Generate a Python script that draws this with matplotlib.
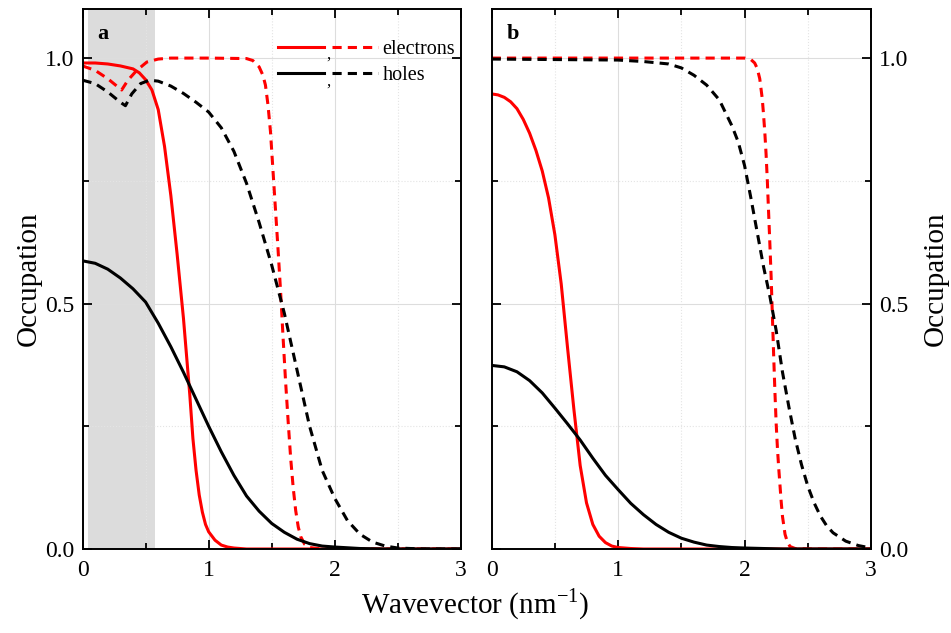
import matplotlib
matplotlib.use('Agg')
import matplotlib.pyplot as plt
from matplotlib.legend_handler import HandlerTuple
from matplotlib.ticker import MultipleLocator

plt.rcParams['font.family'] = ['Liberation Serif', 'DejaVu Serif']
plt.rcParams['mathtext.fontset'] = 'custom'
plt.rcParams['mathtext.rm'] = 'Liberation Serif'

# panel a, electrons (solid / dashed)
xa_es = [0, 0.1, 0.2, 0.3, 0.4, 0.45, 0.5, 0.55, 0.6, 0.65, 0.7, 0.75, 0.8, 0.85, 0.875,
         0.9, 0.925, 0.95, 0.975, 1.0, 1.05, 1.1, 1.15, 1.2, 1.3, 3.0]
ya_es = [0.99, 0.99, 0.988, 0.984, 0.978, 0.97, 0.956, 0.935, 0.895, 0.82, 0.72, 0.6, 0.47,
         0.315, 0.225, 0.16, 0.11, 0.075, 0.05, 0.035, 0.018, 0.008, 0.004, 0.002, 0.0, 0.0]
xa_ed = [0, 0.1, 0.2, 0.31, 0.36, 0.43, 0.51, 0.6, 0.7, 1.0, 1.3, 1.35, 1.4, 1.43, 1.45,
         1.47, 1.49, 1.51, 1.53, 1.55, 1.57, 1.59, 1.61, 1.63, 1.65, 1.67, 1.69, 1.71, 1.73,
         1.76, 1.8, 1.9, 3.0]
ya_ed = [0.984, 0.975, 0.958, 0.935, 0.955, 0.975, 0.992, 0.998, 1.0, 1.0, 0.999, 0.995,
         0.982, 0.965, 0.945, 0.905, 0.85, 0.77, 0.69, 0.61, 0.525, 0.43, 0.34, 0.26, 0.185,
         0.125, 0.078, 0.045, 0.025, 0.01, 0.003, 0.0, 0.0]
# panel a, holes
xa_hs = [0, 0.1, 0.2, 0.3, 0.4, 0.5, 0.6, 0.7, 0.8, 0.9, 1.0, 1.1, 1.2, 1.3, 1.4, 1.5, 1.6,
         1.7, 1.8, 1.9, 2.0, 2.2, 2.4, 3.0]
ya_hs = [0.587, 0.582, 0.57, 0.552, 0.53, 0.503, 0.46, 0.412, 0.36, 0.305, 0.25, 0.198,
         0.15, 0.108, 0.077, 0.052, 0.034, 0.02, 0.011, 0.006, 0.004, 0.001, 0.0, 0.0]
xa_hd = [0, 0.1, 0.2, 0.3, 0.34, 0.39, 0.46, 0.53, 0.6, 0.7, 0.8, 0.9, 1.0, 1.1, 1.2, 1.3,
         1.4, 1.5, 1.6, 1.7, 1.8, 1.9, 2.0, 2.1, 2.2, 2.3, 2.4, 2.5, 2.7, 3.0]
ya_hd = [0.955, 0.948, 0.931, 0.91, 0.903, 0.927, 0.948, 0.955, 0.953, 0.943, 0.928, 0.91,
         0.89, 0.858, 0.81, 0.745, 0.665, 0.578, 0.48, 0.365, 0.25, 0.16, 0.103, 0.058, 0.03,
         0.014, 0.006, 0.002, 0.0, 0.0]

# panel b, electrons
xb_es = [0, 0.05, 0.1, 0.15, 0.2, 0.25, 0.3, 0.35, 0.4, 0.45, 0.5, 0.55, 0.6, 0.65, 0.7,
         0.75, 0.8, 0.85, 0.9, 0.95, 1.0, 1.1, 1.2, 3.0]
yb_es = [0.927, 0.925, 0.92, 0.911, 0.897, 0.875, 0.847, 0.812, 0.77, 0.715, 0.64, 0.54,
         0.41, 0.285, 0.17, 0.094, 0.05, 0.026, 0.013, 0.006, 0.003, 0.001, 0.0, 0.0]
xb_ed = [0, 1.0, 2.0, 2.05, 2.08, 2.1, 2.12, 2.14, 2.15, 2.16, 2.17, 2.18, 2.19, 2.2, 2.21,
         2.22, 2.23, 2.24, 2.25, 2.26, 2.27, 2.28, 2.29, 2.3, 2.32, 2.34, 2.36, 2.4, 2.5, 3.0]
yb_ed = [1.0, 1.0, 1.0, 0.997, 0.99, 0.979, 0.958, 0.917, 0.885, 0.849, 0.805, 0.75, 0.686,
         0.622, 0.555, 0.475, 0.395, 0.32, 0.255, 0.205, 0.165, 0.13, 0.095, 0.066, 0.03,
         0.013, 0.005, 0.001, 0.0, 0.0]
# panel b, holes
xb_hs = [0, 0.1, 0.2, 0.3, 0.4, 0.5, 0.6, 0.7, 0.8, 0.9, 1.0, 1.1, 1.2, 1.3, 1.4, 1.5, 1.6,
         1.7, 1.8, 1.9, 2.0, 2.3, 3.0]
yb_hs = [0.374, 0.371, 0.361, 0.343, 0.318, 0.287, 0.255, 0.222, 0.185, 0.15, 0.121, 0.093,
         0.07, 0.05, 0.034, 0.022, 0.014, 0.008, 0.005, 0.003, 0.002, 0.0, 0.0]
xb_hd = [0, 1.0, 1.2, 1.4, 1.5, 1.6, 1.7, 1.8, 1.9, 1.95, 2.0, 2.05, 2.1, 2.15, 2.2, 2.25,
         2.3, 2.35, 2.4, 2.45, 2.5, 2.55, 2.6, 2.65, 2.7, 2.8, 2.9, 3.0]
yb_hd = [0.998, 0.996, 0.993, 0.988, 0.98, 0.965, 0.945, 0.915, 0.862, 0.829, 0.781, 0.715,
         0.645, 0.575, 0.515, 0.445, 0.36, 0.29, 0.225, 0.172, 0.128, 0.094, 0.067, 0.047,
         0.033, 0.016, 0.007, 0.002]

shade = (0.04, 0.575)

fig = plt.figure(figsize=(9.51, 6.33), dpi=100)
axA = fig.add_axes([0.0868, 0.1327, 0.3979, 0.8531])
axB = fig.add_axes([0.5170, 0.1327, 0.3989, 0.8531])

lw = 2.2
dash = (3, 2)

def style(ax):
    ax.set_xlim(0, 3)
    ax.set_ylim(0, 1.1)
    ax.xaxis.set_major_locator(MultipleLocator(1))
    ax.xaxis.set_minor_locator(MultipleLocator(0.5))
    ax.yaxis.set_major_locator(MultipleLocator(0.5))
    ax.yaxis.set_minor_locator(MultipleLocator(0.25))
    ax.set_axisbelow(True)
    ax.grid(which='major', color='#dddddd', lw=0.8)
    ax.grid(which='minor', color='#e4e4e4', lw=0.8, ls=':')
    ax.tick_params(which='both', direction='in', top=True, bottom=True, left=True, right=True,
                   width=1.3, labelsize=17)
    ax.tick_params(which='major', length=6.5, pad=6)
    ax.tick_params(which='minor', length=4.5)
    ax.tick_params(axis='x', which='major', pad=8)
    for s in ax.spines.values():
        s.set_linewidth(1.4)

style(axA)
style(axB)

axA.axvspan(shade[0], shade[1], color='#dcdcdc', zorder=0, lw=0)
l1, = axA.plot(xa_es, ya_es, color='red', lw=lw)
l2, = axA.plot(xa_ed, ya_ed, color='red', lw=lw, ls=(0, dash))
l3, = axA.plot(xa_hs, ya_hs, color='black', lw=lw)
l4, = axA.plot(xa_hd, ya_hd, color='black', lw=lw, ls=(0, dash))

axB.plot(xb_es, yb_es, color='red', lw=lw)
axB.plot(xb_ed, yb_ed, color='red', lw=lw, ls=(0, dash))
axB.plot(xb_hs, yb_hs, color='black', lw=lw)
axB.plot(xb_hd, yb_hd, color='black', lw=lw, ls=(0, dash))

for ax in (axA, axB):
    ax.set_yticks([0, 0.5, 1.0])
    ax.set_yticklabels(['0.0', '0.5', '1.0'])
axB.tick_params(labelleft=False, labelright=True)

axA.set_ylabel('Occupation', fontsize=21, labelpad=2)
axB.yaxis.set_label_position('right')
axB.set_ylabel('Occupation', fontsize=21, labelpad=10)
fig.text(0.5, 0.045, 'Wavevector (nm$^{\\mathregular{-1}}$)', fontsize=21, ha='center', va='center')

axA.text(0.054, 0.954, 'a', transform=axA.transAxes, fontsize=16, fontweight='bold',
         ha='center', va='center')
axB.text(0.056, 0.954, 'b', transform=axB.transAxes, fontsize=16, fontweight='bold',
         ha='center', va='center')

leg = axA.legend([(l1, l2), (l3, l4)], ['electrons', 'holes'],
                 handler_map={tuple: HandlerTuple(ndivide=None, pad=0.4)},
                 loc='upper left', bbox_to_anchor=(0.505, 0.95), frameon=False,
                 fontsize=14.5, handlelength=5, handletextpad=0.2, labelspacing=0.35,
                 borderpad=0.2, borderaxespad=0)
axA.text(0.651, 0.915, ',', transform=axA.transAxes, fontsize=12, ha='center', va='center')
axA.text(0.651, 0.866, ',', transform=axA.transAxes, fontsize=12, ha='center', va='center')

fig.savefig('out.png', dpi=100)
